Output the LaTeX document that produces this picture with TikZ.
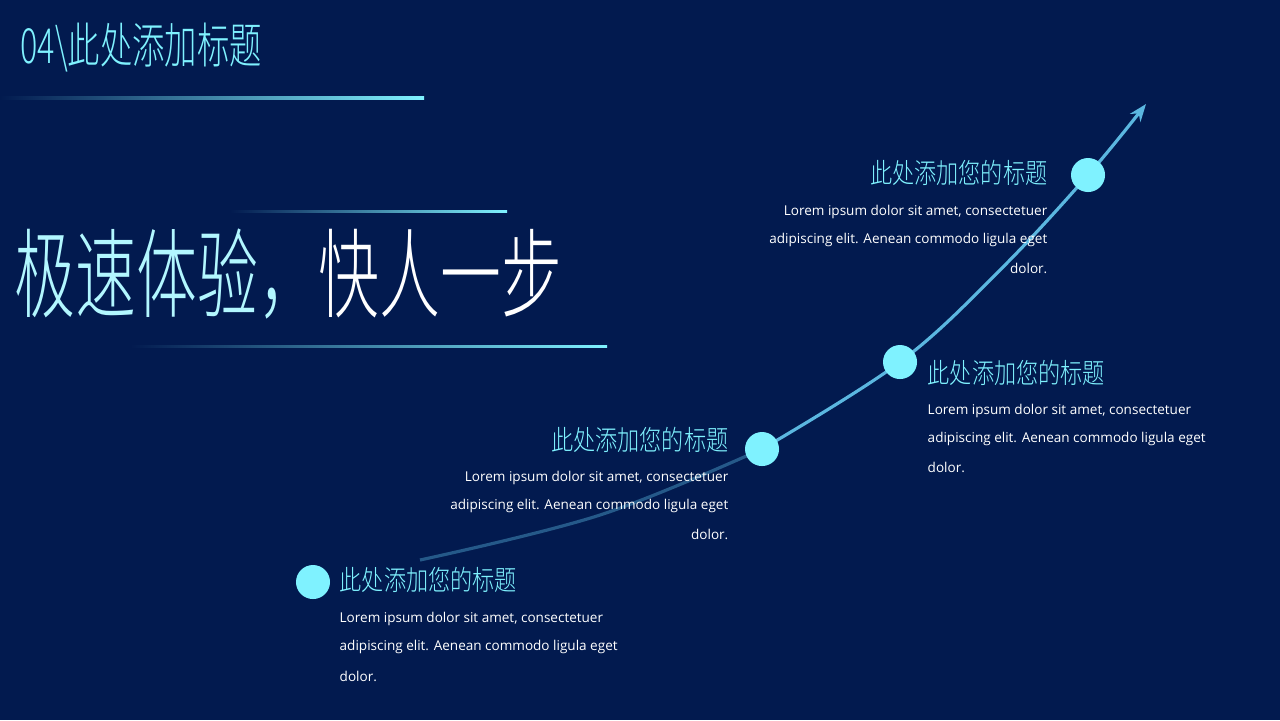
\documentclass[tikz,border=0pt]{standalone}
\usepackage{fontspec}
\setmainfont{Open Sans}
\newfontfamily\cjk{Noto Sans CJK SC Light}
\usetikzlibrary{arrows.meta}
\definecolor{bg}{HTML}{021A4F}
\definecolor{cy}{HTML}{7FF2FF}
\definecolor{ln}{HTML}{5BB7E0}
\tikzset{
 dot/.style={circle,fill=cy,minimum size=0.34cm,inner sep=0},
 head/.style={font=\cjk\fontsize{6.3}{7}\selectfont,text=cy,inner sep=0,yscale=1.25},
 body/.style={font=\fontsize{3.85}{8}\selectfont,text=white,inner sep=0},
}
\begin{document}
\begin{tikzpicture}[x=0.01cm,y=-0.01cm]
\fill[bg] (0,0) rectangle (1280,720);
\useasboundingbox (0,0) rectangle (1280,720);
% title
\node[anchor=west,inner sep=0,text=cy,font=\cjk\fontsize{11.5}{12}\selectfont,yscale=1.2,xscale=0.8] (title) at (20,48) {04\textbackslash 此处添加标题};
\shade[left color=bg,right color=cy] (0,96.5) rectangle (424,99.5);
% big text
\node[anchor=west,inner sep=0,font=\cjk\fontsize{17.3}{18}\selectfont,yscale=1.6] (big) at (14,274) {\textcolor{cy!60!white}{极速体验，}\textcolor{white}{快人一步}};
\shade[left color=bg,right color=cy] (230,210) rectangle (507,212.5);
\shade[left color=bg,right color=cy] (130,345) rectangle (607,347.5);
% curve
\draw[ln!40!bg,line width=0.9pt] plot[smooth,tension=0.6] coordinates {(420,560) (600,515) (762,449)};
\draw[ln,line width=0.9pt,-{Stealth[length=5pt]}] plot[smooth,tension=0.6] coordinates {(762,449) (900,362) (1000,270) (1088,175) (1146,104)};
\node[dot] (d1) at (313,582) {};
\node[dot] (d2) at (762,449) {};
\node[dot] (d3) at (900,362) {};
\node[dot] (d4) at (1088,175) {};
% blocks
\node[head,anchor=west] (h1) at (339,580) {此处添加您的标题};
\node[body,anchor=west] at (339,619) {Lorem ipsum dolor sit amet, consectetuer};
\node[body,anchor=west] at (339,647) {adipiscing elit. Aenean commodo ligula eget};
\node[body,anchor=west] at (339,676) {dolor.};
\node[head,anchor=east] (h2) at (729,440) {此处添加您的标题};
\node[body,anchor=east] at (729,478) {Lorem ipsum dolor sit amet, consectetuer};
\node[body,anchor=east] at (729,506) {adipiscing elit. Aenean commodo ligula eget};
\node[body,anchor=east] at (729,534) {dolor.};
\node[head,anchor=west] (h3) at (927,373) {此处添加您的标题};
\node[body,anchor=west] at (927,411) {Lorem ipsum dolor sit amet, consectetuer};
\node[body,anchor=west] at (927,439) {adipiscing elit. Aenean commodo ligula eget};
\node[body,anchor=west] at (927,467) {dolor.};
\node[head,anchor=east] (h4) at (1048,173) {此处添加您的标题};
\node[body,anchor=east] at (1048,212) {Lorem ipsum dolor sit amet, consectetuer};
\node[body,anchor=east] at (1048,240) {adipiscing elit. Aenean commodo ligula eget};
\node[body,anchor=east] at (1048,268) {dolor.};
\end{tikzpicture}
\end{document}
